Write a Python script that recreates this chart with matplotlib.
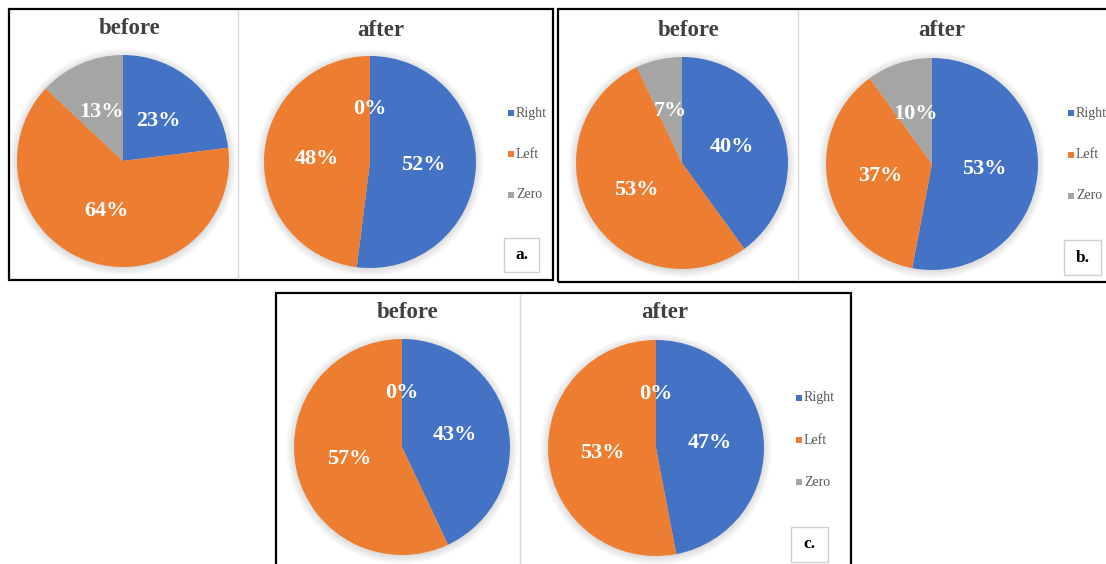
import matplotlib
matplotlib.use('Agg')
import matplotlib.pyplot as plt
from matplotlib.patches import Rectangle, Circle

plt.rcParams['font.family'] = ['Liberation Serif', 'DejaVu Serif']

# data
categories = ['Right', 'Left', 'Zero']
colors = ['#4472C4', '#ED7D31', '#A5A5A5']
pie_titles = ['before', 'after']
panel_labels = ['a.', 'b.', 'c.']

a_before = [23, 64, 13]
a_after = [52, 48, 0]
b_before = [40, 53, 7]
b_after = [53, 37, 10]
c_before = [43, 57, 0]
c_after = [47, 53, 0]

W, H = 1106, 564
fig = plt.figure(figsize=(W / 100, H / 100), dpi=100)


def fx(x):
    return x / W


def fy(y):
    return 1 - y / H


# layout of each panel, in pixels from top left
panels = [
    dict(data=[a_before, a_after], box=(9, 9, 553, 280), div=238,
         pies=[(123, 161, 106), (370, 162, 106)],
         titles=[(130, 29), (381, 30)],
         legend=(508, [113, 154, 195]),
         lbox=(504, 238, 539, 272)),
    dict(data=[b_before, b_after], box=(558, 9, 1112, 282), div=798,
         pies=[(682, 163, 106), (932, 164, 106)],
         titles=[(689, 30), (942, 31)],
         legend=(1068, [113, 155, 196]),
         lbox=(1064, 240, 1101, 275)),
    dict(data=[c_before, c_after], box=(276, 293, 851, 570), div=520,
         pies=[(402, 447, 108), (656, 448, 108)],
         titles=[(408, 312), (665, 313)],
         legend=(796, [398, 440, 482]),
         lbox=(791, 527, 828, 562)),
]

for p, lab in zip(panels, panel_labels):
    x0, y0, x1, y1 = p['box']
    # divider between the two pies
    fig.add_artist(plt.Line2D([fx(p['div']), fx(p['div'])], [fy(y0 + 2), fy(y1 - 2)],
                              color='#d9d9d9', lw=1))
    for vals, (cx, cy, r), (tx, ty), title in zip(p['data'], p['pies'], p['titles'], pie_titles):
        m = 1.2
        ax = fig.add_axes([fx(cx - r * m), fy(cy + r * m), 2 * r * m / W, 2 * r * m / H])
        # soft shadow
        for k in range(7):
            ax.add_patch(Circle((0, -0.01), 1.0 + 0.012 * k, color='#000000',
                                alpha=0.02, lw=0, zorder=0))
        wedges, texts, autotexts = ax.pie(vals, colors=colors, startangle=90,
                                          counterclock=False, autopct=lambda v: f'{v:.0f}%',
                                          pctdistance=0.5, radius=1.0,
                                          wedgeprops=dict(linewidth=0))
        for w in wedges:
            w.set_zorder(2)
        for t in autotexts:
            t.set_color('white')
            t.set_fontsize(16)
            t.set_fontweight('bold')
            t.set_zorder(3)
        ax.set_xlim(-m, m)
        ax.set_ylim(-m, m)
        ax.axis('off')
        fig.text(fx(tx), fy(ty), title, ha='center', va='center', fontsize=16.5,
                 fontweight='bold', color='#404040')
    # legend
    lx, lys = p['legend']
    for cat, col, ly in zip(categories, colors, lys):
        fig.add_artist(Rectangle((fx(lx), fy(ly + 3)), 6 / W, 6 / H, color=col, lw=0))
        fig.text(fx(lx + 8), fy(ly), cat, ha='left', va='center', fontsize=10, color='#595959')
    # panel letter box
    bx0, by0, bx1, by1 = p['lbox']
    fig.add_artist(Rectangle((fx(bx0), fy(by1)), (bx1 - bx0) / W, (by1 - by0) / H,
                             facecolor='white', edgecolor='#d0d0d0', lw=1))
    fig.text(fx((bx0 + bx1) / 2), fy((by0 + by1) / 2), lab, ha='center', va='center',
             fontsize=12.5, fontweight='bold', color='black')
    # panel frame
    fig.add_artist(Rectangle((fx(x0), fy(y1)), (x1 - x0) / W, (y1 - y0) / H,
                             facecolor='none', edgecolor='black', lw=1.6))

fig.savefig('out.png', dpi=100)
